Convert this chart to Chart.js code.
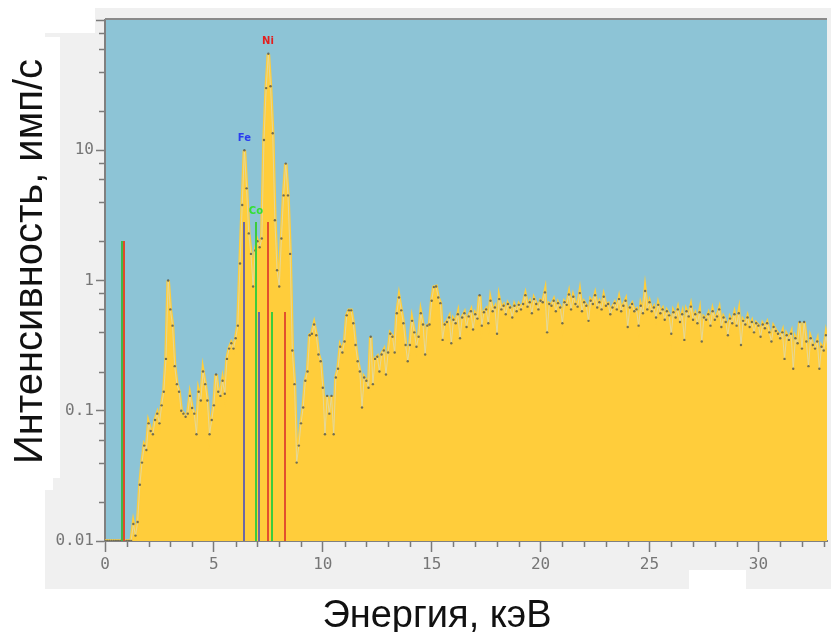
<!DOCTYPE html>
<html>
<head>
<meta charset="utf-8">
<script src="https://cdn.jsdelivr.net/npm/chart.js@4.4.1/dist/chart.umd.min.js"></script>
<style>
  html, body { margin: 0; padding: 0; background: #fff; }
  #chart { display: block; }
</style>
</head>
<body>
<canvas id="chart" width="831" height="632"></canvas>
<script>
// spectrum: counts per 0.1 keV channel, starting at 0 keV
const channelWidth = 0.1;
const counts = [
  0.01, 0.01, 0.01, 0.01, 0.01, 0.01, 0.01, 0.01, 0.01, 0.01,          // 0
  0.01, 0.01, 0.01, 0.0135, 0.011, 0.014, 0.027, 0.04, 0.054, 0.05,    // 1
  0.08, 0.07, 0.066, 0.085, 0.095, 0.08, 0.11, 0.14, 0.25, 1.0,        // 2
  0.6, 0.45, 0.22, 0.16, 0.14, 0.1, 0.095, 0.09, 0.095, 0.13,          // 3
  0.105, 0.095, 0.066, 0.14, 0.12, 0.2, 0.16, 0.12, 0.066, 0.085,      // 4
  0.11, 0.19, 0.14, 0.13, 0.17, 0.135, 0.25, 0.3, 0.33, 0.3,           // 5
  0.36, 0.45, 1.35, 3.8, 10, 5.1, 2.3, 1.6, 0.9, 1.7,                  // 6
  2.0, 1.8, 2.1, 12, 30, 55, 31, 13.5, 2.9, 1.2,                       // 7
  0.9, 2.1, 4.5, 7.9, 4.5, 1.6, 0.29, 0.16, 0.04, 0.054,               // 8
  0.08, 0.106, 0.17, 0.2, 0.38, 0.39, 0.46, 0.38, 0.27, 0.24,          // 9
  0.15, 0.066, 0.13, 0.095, 0.13, 0.066, 0.18, 0.21, 0.31, 0.28,       // 10
  0.34, 0.54, 0.59, 0.59, 0.47, 0.32, 0.24, 0.2, 0.106, 0.18,          // 11
  0.17, 0.15, 0.37, 0.16, 0.25, 0.26, 0.2, 0.27, 0.29, 0.19,           // 12
  0.28, 0.39, 0.37, 0.28, 0.56, 0.74, 0.59, 0.47, 0.32, 0.24,          // 13
  0.32, 0.49, 0.4, 0.31, 0.37, 0.56, 0.46, 0.27, 0.45, 0.46,           // 14
  0.7, 0.89, 0.9, 0.74, 0.67, 0.35, 0.46, 0.48, 0.52, 0.33,            // 15
  0.5, 0.47, 0.55, 0.36, 0.52, 0.56, 0.44, 0.53, 0.58, 0.42,           // 16
  0.55, 0.51, 0.77, 0.45, 0.57, 0.6, 0.47, 0.7, 0.58, 0.62,            // 17
  0.39, 0.72, 0.6, 0.64, 0.55, 0.66, 0.62, 0.52, 0.64, 0.58,           // 18
  0.65, 0.6, 0.66, 0.77, 0.63, 0.68, 0.56, 0.72, 0.66, 0.6,            // 19
  0.7, 0.68, 0.81, 0.4, 0.66, 0.64, 0.7, 0.58, 0.67, 0.62,             // 20
  0.47, 0.68, 0.65, 0.78, 0.6, 0.75, 0.66, 0.63, 0.8, 0.58,            // 21
  0.68, 0.64, 0.49, 0.7, 0.66, 0.77, 0.62, 0.68, 0.6, 0.75,            // 22
  0.64, 0.66, 0.55, 0.62, 0.67, 0.6, 0.72, 0.58, 0.64, 0.7,            // 23
  0.44, 0.62, 0.66, 0.58, 0.6, 0.45, 0.64, 0.56, 0.83, 0.6,            // 24
  0.68, 0.58, 0.62, 0.52, 0.65, 0.56, 0.6, 0.5, 0.58, 0.54,            // 25
  0.39, 0.57, 0.52, 0.6, 0.48, 0.55, 0.35, 0.58, 0.53, 0.63,           // 26
  0.5, 0.55, 0.47, 0.57, 0.34, 0.52, 0.5, 0.55, 0.45, 0.58,            // 27
  0.5, 0.53, 0.6, 0.44, 0.52, 0.48, 0.38, 0.51, 0.47, 0.55,            // 28
  0.45, 0.56, 0.32, 0.49, 0.46, 0.52, 0.44, 0.48, 0.4, 0.47,           // 29
  0.45, 0.37, 0.46, 0.43, 0.47, 0.4, 0.34, 0.44, 0.41, 0.39,           // 30
  0.36, 0.4, 0.25, 0.38, 0.35, 0.39, 0.21, 0.36, 0.33, 0.48,           // 31
  0.3, 0.48, 0.34, 0.22, 0.36, 0.32, 0.3, 0.34, 0.21, 0.31,            // 32
  0.29, 0.38, 0.3                                                      // 33
];

// characteristic lines (keV) and marker heights
const lineEnergies = [0.776, 0.851, 6.40, 7.06, 6.93, 7.65, 7.48, 8.26];
const lineHeights  = [2.0, 2.0, 2.8, 0.57, 2.8, 0.57, 2.8, 0.57];
const lineColors   = ['#3fb84a', '#e04a2c', '#6c68a4', '#6c68a4', '#3ccc3c', '#3ccc3c', '#e2512d', '#e2512d'];

// element labels
const elementNames    = ['Fe', 'Co', 'Ni'];
const elementEnergies = [6.40, 6.93, 7.48];
const elementLabelY   = [12.4, 3.4, 68];
const elementColors   = ['#2a3cf0', '#33e033', '#e41e1e'];

// axes
const xMax = 33.15;
const xTickValues = [0, 5, 10, 15, 20, 25, 30];
const yTickValues = [0.01, 0.1, 1, 10];
const yTickLabels = ['0.01', '0.1', '1', '10'];

const xTitle = 'Энергия, кэВ';
const yTitle = 'Интенсивность, имп/с';

function toPoints() {
  return counts.map((c, i) => ({ x: +(i * channelWidth).toFixed(1), y: c }));
}

const tickGrey = '#7a7a7a';

const frame = {
  id: 'frame',
  beforeDraw(chart) {
    const c = chart.ctx, a = chart.chartArea;
    c.save();
    c.fillStyle = '#ffffff';
    c.fillRect(0, 0, chart.width, chart.height);
    c.fillStyle = '#f0f0f0';
    c.fillRect(95, 8, chart.width - 95, 581);
    c.fillRect(45, 33, 50, 556);
    c.fillStyle = '#ffffff';
    c.fillRect(0, 37, 60, 441);
    c.fillRect(0, 478, 53, 12);
    c.fillRect(689, 570, 57, 19);
    // plot background
    c.fillStyle = '#8dc4d6';
    c.fillRect(a.left, a.top, a.right - a.left, a.bottom - a.top);
    c.restore();
  },
  afterDatasetsDraw(chart) {
    const c = chart.ctx, xs = chart.scales.x, ys = chart.scales.y;
    c.save();
    // line markers, 2px wide, snapped to whole pixels
    const base = Math.round(ys.getPixelForValue(0.01));
    lineEnergies.forEach((e, i) => {
      const left = Math.round(xs.getPixelForValue(e) - 1);
      const top = Math.round(ys.getPixelForValue(lineHeights[i]));
      c.fillStyle = lineColors[i];
      c.fillRect(left, top, 2, base - top);
    });
    // element names
    c.font = 'bold 10px "DejaVu Sans"';
    c.textAlign = 'center';
    c.textBaseline = 'middle';
    elementNames.forEach((n, i) => {
      c.fillStyle = elementColors[i];
      c.fillText(n, xs.getPixelForValue(elementEnergies[i]), ys.getPixelForValue(elementLabelY[i]));
    });
    c.restore();
  },
  afterDraw(chart) {
    const c = chart.ctx, a = chart.chartArea, xs = chart.scales.x, ys = chart.scales.y;
    c.save();
    c.strokeStyle = tickGrey;
    c.lineWidth = 1.5;
    c.beginPath();
    // minor ticks on x every keV
    for (let e = 1; e < xMax; e++) {
      if (e % 5 === 0) continue;
      const px = Math.round(xs.getPixelForValue(e)) + 0.5;
      c.moveTo(px, a.bottom + 1);
      c.lineTo(px, a.bottom + 6);
    }
    // minor ticks on y at 2,4,6,8 per decade
    [0.01, 0.1, 1, 10].forEach(d => {
      [2, 4, 6, 8].forEach(m => {
        const py = Math.round(ys.getPixelForValue(d * m)) + 0.5;
        c.moveTo(a.left - 6, py);
        c.lineTo(a.left - 1, py);
      });
    });
    const p100 = Math.round(ys.getPixelForValue(100)) + 0.5;
    c.moveTo(a.left - 9, p100);
    c.lineTo(a.left - 1, p100);
    c.stroke();
    // top edge of the plot
    c.fillStyle = '#8a8a8a';
    c.fillRect(a.left, a.top - 2, a.right - a.left, 2);
    // axis titles
    c.fillStyle = '#111111';
    c.font = '38px "Liberation Sans"';
    c.textAlign = 'center';
    c.textBaseline = 'alphabetic';
    c.fillText(xTitle, 437, 627);
    c.translate(42, 261.5);
    c.rotate(-Math.PI / 2);
    c.font = '40px "Liberation Sans"';
    c.fillText(yTitle, 0, 0);
    c.restore();
  }
};

const tickFont = { family: '"DejaVu Sans Mono"', size: 16 };

new Chart(document.getElementById('chart'), {
  type: 'line',
  data: {
    datasets: [
      {
        // filled area
        data: toPoints(),
        borderColor: '#ffcd3b',
        backgroundColor: '#ffcd3b',
        borderWidth: 3.5,
        fill: 'start',
        pointRadius: 0,
        tension: 0,
        order: 2
      },
      {
        // channel trace with markers
        data: toPoints(),
        borderColor: 'rgba(226, 216, 160, 0.95)',
        borderWidth: 1,
        fill: false,
        pointRadius: 1.2,
        pointBorderWidth: 0,
        pointBackgroundColor: 'rgba(90, 90, 75, 0.85)',
        tension: 0,
        order: 1
      }
    ]
  },
  options: {
    responsive: false,
    animation: false,
    devicePixelRatio: 1,
    layout: { padding: { top: 20, left: 0, right: 0, bottom: 0 } },
    plugins: { legend: { display: false }, tooltip: { enabled: false } },
    scales: {
      x: {
        type: 'linear',
        min: 0,
        max: xMax,
        z: 1,
        afterBuildTicks: s => { s.ticks = xTickValues.map(v => ({ value: v })); },
        afterFit: s => { s.height = 91; },
        grid: { drawOnChartArea: false, tickLength: 11, tickColor: tickGrey, tickWidth: 1.5 },
        border: { color: '#808080', width: 2 },
        ticks: { font: tickFont, color: '#767676', padding: 3, maxRotation: 0, autoSkip: false,
                 callback: v => String(v) }
      },
      y: {
        type: 'logarithmic',
        min: 0.01,
        max: 100,
        z: 1,
        afterBuildTicks: s => { s.ticks = yTickValues.map(v => ({ value: v })); },
        afterFit: s => { s.width = 105; },
        grid: { drawOnChartArea: false, tickLength: 9, tickColor: tickGrey, tickWidth: 1.5 },
        border: { color: '#808080', width: 2 },
        ticks: { font: tickFont, color: '#767676', padding: 2, autoSkip: false,
                 callback: v => yTickLabels[yTickValues.indexOf(v)] }
      }
    }
  },
  plugins: [frame]
});
</script>
</body>
</html>
